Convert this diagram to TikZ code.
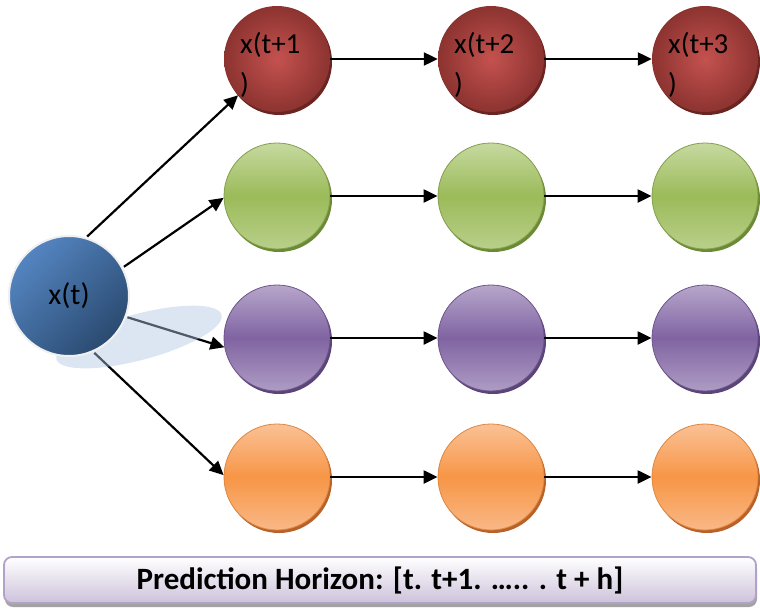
\documentclass[tikz,border=0pt]{standalone}
\usepackage{fontspec}
\setmainfont{Carlito}
\usetikzlibrary{arrows.meta,shapes.geometric,shadows}
\definecolor{redin}{HTML}{C4524F}
\definecolor{redout}{HTML}{8C3330}
\definecolor{redsh}{HTML}{6A2422}
\definecolor{grtop}{HTML}{C6D9A0}
\definecolor{grmid}{HTML}{9BBB59}
\definecolor{grbot}{HTML}{B9CF8A}
\definecolor{grsh}{HTML}{6B8A36}
\definecolor{putop}{HTML}{B7A6CB}
\definecolor{pumid}{HTML}{8064A2}
\definecolor{pubot}{HTML}{AE9CC4}
\definecolor{push}{HTML}{5A4478}
\definecolor{ortop}{HTML}{FAC196}
\definecolor{ormid}{HTML}{F79646}
\definecolor{orbot}{HTML}{F9B887}
\definecolor{orsh}{HTML}{B8622A}
\definecolor{bllight}{HTML}{5485C1}
\definecolor{bldark}{HTML}{2A4A70}
\definecolor{ellcol}{HTML}{B2C8E3}
\definecolor{barline}{HTML}{B3A2C7}
\definecolor{barbot}{HTML}{CDC2DB}
\begin{document}
\begin{tikzpicture}[x=1pt,y=-1pt,
  ball/.style={circle, minimum size=106pt, inner sep=0pt},
  redball/.style={ball, shading=radial, inner color=redin, outer color=redout,
    drop shadow={shadow xshift=2pt, shadow yshift=-3pt, fill=redsh, opacity=1}},
  greenball/.style={ball, draw=grmid!85!black, line width=0.8pt, top color=grtop, bottom color=grbot, middle color=grmid,
    drop shadow={shadow xshift=2pt, shadow yshift=-3pt, fill=grsh, opacity=1}},
  purpleball/.style={ball, draw=pumid!85!black, line width=0.8pt, top color=putop, bottom color=pubot, middle color=pumid,
    drop shadow={shadow xshift=2pt, shadow yshift=-3pt, fill=push, opacity=1}},
  orangeball/.style={ball, draw=ormid!90!black, line width=0.8pt, top color=ortop, bottom color=orbot, middle color=ormid,
    drop shadow={shadow xshift=2pt, shadow yshift=-3pt, fill=orsh, opacity=1}},
  conn/.style={line width=2.2pt, -{Triangle[length=14pt,width=13pt]}},
  lbl/.style={anchor=north west, inner sep=0pt, align=left, font=\fontsize{29}{40}\selectfont},
]
\useasboundingbox (0,0) rectangle (760,613);

% row balls
\node[redball] (r1) at (277,59) {};
\node[redball] (r2) at (491,59) {};
\node[redball] (r3) at (705,59) {};
\node[greenball] (g1) at (277,196) {};
\node[greenball] (g2) at (491,196) {};
\node[greenball] (g3) at (705,196) {};
\node[purpleball] (p1) at (277,338) {};
\node[purpleball] (p2) at (491,338) {};
\node[purpleball] (p3) at (705,338) {};
\node[orangeball] (o1) at (277,477) {};
\node[orangeball] (o2) at (491,477) {};
\node[orangeball] (o3) at (705,477) {};

% labels in red balls
\node[lbl] (t1) at (240,32) {x(t+1\\)};
\node[lbl] (t2) at (454,32) {x(t+2\\)};
\node[lbl] (t3) at (668,32) {x(t+3\\)};

% horizontal connectors
\foreach \r in {r,g,p,o}{
  \draw[conn] (\r1.east) -- (\r2.west);
  \draw[conn] (\r2.east) -- (\r3.west);
}

% source ball position
\coordinate (xc) at (69,296);
\node[circle, minimum size=124pt, inner sep=0pt] (xtb) at (xc) {};

% fan-out connectors
\draw[conn] (xtb.73) -- (r1.223);
\draw[conn] (xtb.28) -- (g1.182);
\draw[conn] (xtb.-20) -- (p1.190);
\draw[conn] (xtb.-66) -- (o1.178);

% shadow ellipse
\node[ellipse, rotate=15, minimum width=171pt, minimum height=46pt, inner sep=0pt,
      fill=ellcol, fill opacity=0.45] (ell) at (139,337) {};

% source ball
\node[circle, minimum size=120pt, inner sep=0pt, draw=black!6, line width=2pt,
      top color=bllight, bottom color=bldark, shading angle=45,
      font=\fontsize{30}{36}\selectfont] (xt) at (xc) {x(t)};

% bottom bar
\node[minimum width=752pt, minimum height=46pt, rounded corners=8pt,
      draw=barline, line width=1.8pt, top color=white, bottom color=barbot,
      drop shadow={shadow xshift=1pt, shadow yshift=-4pt, fill=black!45, opacity=0.8},
      font=\bfseries\fontsize{31}{36}\selectfont] (bar) at (380,580)
      {Prediction Horizon: [t. t+1. ….. . t + h]};
\end{tikzpicture}
\end{document}
